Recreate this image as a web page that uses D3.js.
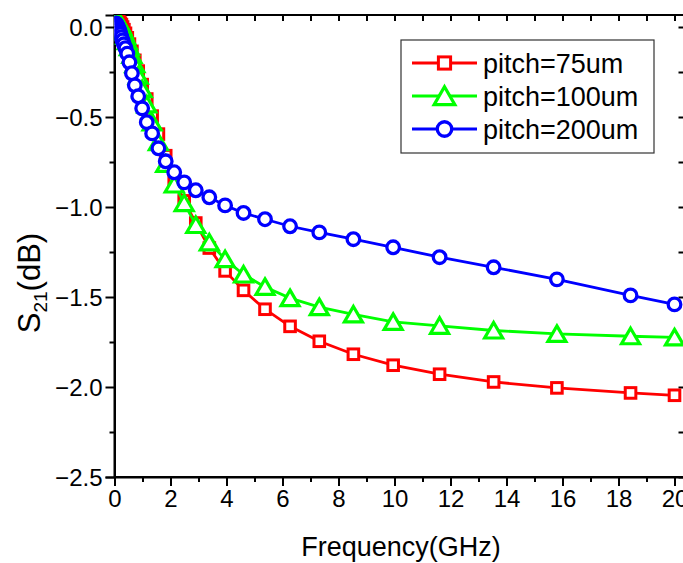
<!DOCTYPE html>
<html>
<head>
<meta charset="utf-8">
<script src="https://cdn.jsdelivr.net/npm/d3@7"></script>
<style>
    body { margin: 0; background: #fff; }
    text { font-family: "Liberation Sans", Arial, sans-serif; fill: #000; }
</style>
</head>
<body>
<div id="chart"></div>
<script>
// frequency points (GHz), shared by all three curves
var freq = [0.045, 0.053, 0.062, 0.072, 0.084, 0.098, 0.114, 0.133, 0.156, 0.181, 0.212, 0.247, 0.288, 0.336,
    0.392, 0.457, 0.533, 0.622, 0.726, 0.847, 0.988, 1.152, 1.344, 1.568, 1.829, 2.133, 2.489, 2.903, 3.386,
    3.95, 4.608, 5.375, 6.27, 7.314, 8.532, 9.952, 11.61, 13.54, 15.8, 18.43, 20];

// S21 in dB
var pitch75 = [0.035, 0.035, 0.034, 0.034, 0.033, 0.032, 0.031, 0.030, 0.028, 0.025, 0.020, 0.012, 0.000, -0.015,
    -0.035, -0.060, -0.095, -0.135, -0.185, -0.245, -0.320, -0.400, -0.495, -0.595, -0.715, -0.845, -0.966, -1.089, -1.228,
    -1.355, -1.463, -1.568, -1.663, -1.746, -1.818, -1.879, -1.929, -1.972, -2.005, -2.033, -2.046];
var pitch100 = [0.045, 0.044, 0.043, 0.042, 0.040, 0.038, 0.036, 0.033, 0.029, 0.024, 0.016, 0.005, -0.010, -0.028,
    -0.050, -0.078, -0.112, -0.155, -0.207, -0.270, -0.345, -0.430, -0.530, -0.640, -0.760, -0.875, -0.978, -1.100, -1.197,
    -1.290, -1.375, -1.444, -1.506, -1.556, -1.597, -1.638, -1.660, -1.686, -1.705, -1.718, -1.724];
var pitch200 = [0.020, 0.018, 0.016, 0.013, 0.010, 0.006, 0.001, -0.006, -0.015, -0.026, -0.040, -0.056, -0.075, -0.096,
    -0.118, -0.148, -0.196, -0.257, -0.324, -0.385, -0.452, -0.529, -0.591, -0.674, -0.746, -0.807, -0.863, -0.907, -0.946,
    -0.991, -1.033, -1.068, -1.107, -1.141, -1.179, -1.224, -1.279, -1.335, -1.402, -1.491, -1.541];

var seriesNames = ["pitch=75um", "pitch=100um", "pitch=200um"];
var seriesColors = ["#ff0000", "#00ff00", "#0000ff"];
var seriesShapes = ["square", "triangle", "circle"];

var xTicks = [0, 2, 4, 6, 8, 10, 12, 14, 16, 18, 20];
var yTicks = [0.0, -0.5, -1.0, -1.5, -2.0, -2.5];

var width = 683, height = 563;
var pLeft = 114.5, pRight = 684.5, pTop = 15, pBottom = 477;

var svg = d3.select("#chart").append("svg")
    .attr("width", width)
    .attr("height", height);

var x = d3.scaleLinear().domain([0, 20.357]).range([pLeft, pRight]);
var y = d3.scaleLinear().domain([-2.5, 0.0667]).range([pBottom, pTop]);

svg.append("clipPath").attr("id", "clip")
    .append("rect")
    .attr("x", pLeft).attr("y", pTop)
    .attr("width", pRight - pLeft).attr("height", pBottom - pTop);

// minor ticks halfway between majors
var xMinor = d3.range(1, 21, 2);
var yMinor = [-0.25, -0.75, -1.25, -1.75, -2.25];

// bottom axis, ticks out
svg.append("g")
    .attr("transform", "translate(0," + pBottom + ")")
    .call(d3.axisBottom(x).tickValues(xMinor).tickSize(5).tickFormat(""))
    .call(g => g.select(".domain").remove());
var xAxis = svg.append("g")
    .attr("transform", "translate(0," + pBottom + ")")
    .call(d3.axisBottom(x).tickValues(xTicks).tickSize(9).tickPadding(4).tickFormat(d3.format("d")));
xAxis.selectAll("text").attr("font-size", 24);

// left axis, ticks out
svg.append("g")
    .attr("transform", "translate(" + pLeft + ",0)")
    .call(d3.axisLeft(y).tickValues(yMinor).tickSize(5).tickFormat(""))
    .call(g => g.select(".domain").remove());
var yAxis = svg.append("g")
    .attr("transform", "translate(" + pLeft + ",0)")
    .call(d3.axisLeft(y).tickValues(yTicks).tickSize(9).tickPadding(3).tickFormat(d3.format(".1f")));
yAxis.selectAll("text").attr("font-size", 24).attr("dy", "0.36em");

// top and right axes, ticks in, no labels
svg.append("g")
    .attr("transform", "translate(0," + pTop + ")")
    .call(d3.axisBottom(x).tickValues(xTicks.concat(xMinor)).tickSize(6).tickFormat(""))
    .call(g => g.select(".domain").remove());
svg.append("g")
    .attr("transform", "translate(" + pRight + ",0)")
    .call(d3.axisLeft(y).tickValues(yTicks.concat(yMinor)).tickSize(6).tickFormat(""))
    .call(g => g.select(".domain").remove());

svg.selectAll(".tick line").attr("stroke", "#000").attr("stroke-width", 2);
svg.selectAll(".domain").attr("stroke", "#000").attr("stroke-width", 2);
svg.selectAll(".tick text").attr("font-family", "'Liberation Sans', Arial, sans-serif").attr("fill", "#000");

svg.append("rect")
    .attr("x", pLeft).attr("y", pTop)
    .attr("width", pRight - pLeft).attr("height", pBottom - pTop)
    .attr("fill", "none")
    .attr("stroke", "#000")
    .attr("stroke-width", 2);

// axis titles
svg.append("text")
    .attr("x", 401)
    .attr("y", 556)
    .attr("text-anchor", "middle")
    .attr("font-size", 27)
    .text("Frequency(GHz)");

var yt = svg.append("text")
    .attr("transform", "translate(40,283) rotate(-90)")
    .attr("text-anchor", "middle")
    .attr("font-size", 31);
yt.append("tspan").text("S");
yt.append("tspan").attr("font-size", 19).attr("dy", 7).text("21");
yt.append("tspan").attr("dy", -7).text("(dB)");

// s scales the marker (legend ones are drawn bigger)
function marker(sel, shape, color, s) {
    if (shape === "square") {
        sel.append("rect")
            .attr("x", -5.3 * s).attr("y", -5.3 * s).attr("width", 10.6 * s).attr("height", 10.6 * s)
            .attr("fill", "#fff").attr("stroke", color).attr("stroke-width", 3);
    } else if (shape === "triangle") {
        sel.append("path")
            .attr("d", "M0," + (-8 * s) + "L" + (9 * s) + "," + (7.5 * s) + "L" + (-9 * s) + "," + (7.5 * s) + "Z")
            .attr("fill", "#fff").attr("stroke", color).attr("stroke-width", 3.2)
            .attr("stroke-linejoin", "miter");
    } else {
        sel.append("circle")
            .attr("r", 6.3 * s)
            .attr("fill", "#fff").attr("stroke", color).attr("stroke-width", 3.3);
    }
}

var allSeries = [pitch75, pitch100, pitch200];
var plot = svg.append("g").attr("clip-path", "url(#clip)");
var line = d3.line()
    .x(function (d) { return x(d[0]); })
    .y(function (d) { return y(d[1]); });

allSeries.forEach(function (vals, i) {
    var pts = freq.map(function (f, k) { return [f, vals[k]]; });
    var g = plot.append("g").attr("class", "series");
    g.append("path")
        .datum(pts)
        .attr("fill", "none")
        .attr("stroke", seriesColors[i])
        .attr("stroke-width", 2.8)
        .attr("d", line);
    g.selectAll(".mk")
        .data(pts)
        .enter().append("g")
        .attr("class", "mk")
        .attr("transform", function (d) { return "translate(" + x(d[0]) + "," + y(d[1]) + ")"; })
        .each(function () { marker(d3.select(this), seriesShapes[i], seriesColors[i], 1); });
});

// legend
var legend = svg.append("g");
legend.append("rect")
    .attr("x", 401).attr("y", 40)
    .attr("width", 253).attr("height", 113)
    .attr("fill", "#fff")
    .attr("stroke", "#333")
    .attr("stroke-width", 1.2);
seriesNames.forEach(function (name, i) {
    var ly = 63 + i * 33;
    legend.append("line")
        .attr("x1", 412).attr("x2", 477)
        .attr("y1", ly).attr("y2", ly)
        .attr("stroke", seriesColors[i])
        .attr("stroke-width", 3);
    var m = legend.append("g").attr("transform", "translate(444.5," + ly + ")");
    marker(m, seriesShapes[i], seriesColors[i], 1.15);
    legend.append("text")
        .attr("x", 483)
        .attr("y", ly)
        .attr("dy", "0.36em")
        .attr("font-size", 27)
        .text(name);
});
</script>
</body>
</html>
